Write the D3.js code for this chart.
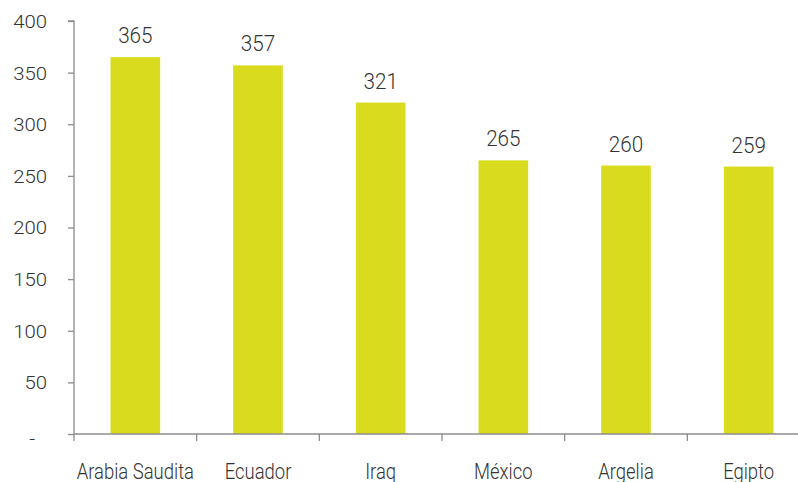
<!DOCTYPE html>
<html>
<head>
<meta charset="utf-8">
<script src="https://cdn.jsdelivr.net/npm/d3@7"></script>
<style>
  body { margin: 0; background: #fff; }
  svg { display: block; }
  text { font-family: Roboto, "Liberation Sans", sans-serif; font-weight: 300; fill: #333; }
</style>
</head>
<body>
<svg width="798" height="482"></svg>
<script>
// values
var countries = ['Arabia Saudita', 'Ecuador', 'Iraq', 'México', 'Argelia', 'Egipto']
var values = [365, 357, 321, 265, 260, 259]
var yTicks = [0, 50, 100, 150, 200, 250, 300, 350, 400]

var data = countries.map(function(c, i) {
  return { country: c, value: values[i] }
})

const svg = d3.select('svg')
const plotLeft = 74, plotTop = 21, plotBottom = 434
// the plot runs past the right edge of the picture
const plotRight = 810

const xScale = d3.scaleBand().range([plotLeft, plotRight]).domain(countries)
const yScale = d3.scaleLinear().range([plotBottom, plotTop]).domain([0, 400])
const barW = xScale.bandwidth() * 0.405

// the source font is a narrow one, so squeeze Roboto a bit
function place(sel, x, y, sx) {
  sel.attr('x', 0).attr('y', 0)
    .attr('transform', function(d) {
      return `translate(${x(d)},${y(d)}) scale(${sx},1)`
    })
}

// bars
svg.selectAll('rect.bar')
  .data(data)
  .enter()
  .append('rect')
  .attr('class', 'bar')
  .attr('x', d => xScale(d.country) + (xScale.bandwidth() - barW) / 2)
  .attr('y', d => yScale(d.value))
  .attr('width', barW)
  .attr('height', d => plotBottom - yScale(d.value))
  .attr('fill', '#d9db1e')

// value labels
svg.selectAll('text.val')
  .data(data)
  .enter()
  .append('text')
  .attr('class', 'val')
  .attr('text-anchor', 'middle')
  .style('font-size', '22px')
  .text(d => d.value)
  .call(place, d => xScale(d.country) + xScale.bandwidth() / 2, d => yScale(d.value) - 14, 0.94)

// y axis
const yAxis = svg.append('g')
  .attr('transform', `translate(${plotLeft},0)`)
  .call(d3.axisLeft(yScale).tickValues(yTicks).tickSize(6)
    .tickFormat(d => d === 0 ? '-' : d))
yAxis.selectAll('path, line').attr('stroke', '#8c8c8c').attr('stroke-width', 1.3)
yAxis.select('.domain').attr('d', `M-6,${plotTop}H0V${plotBottom}`)
yAxis.selectAll('text')
  .style('font-size', '18.5px')
  .attr('fill', '#333')
  .attr('dy', '0.35em')
  .call(place, d => d === 0 ? -39 : -27, d => d === 0 ? 4 : 0, 1.1)

// x axis, ticks at the band edges
const xAxis = svg.append('g')
  .attr('transform', `translate(0,${plotBottom})`)
xAxis.append('line')
  .attr('x1', plotLeft).attr('x2', plotRight).attr('y1', 0).attr('y2', 0)
  .attr('stroke', '#8c8c8c').attr('stroke-width', 1.3)
xAxis.selectAll('line.tk')
  .data(countries)
  .enter()
  .append('line')
  .attr('class', 'tk')
  .attr('x1', d => xScale(d)).attr('x2', d => xScale(d))
  .attr('y1', 0).attr('y2', 7)
  .attr('stroke', '#8c8c8c').attr('stroke-width', 1.3)
xAxis.selectAll('text.cat')
  .data(countries)
  .enter()
  .append('text')
  .attr('class', 'cat')
  .attr('text-anchor', 'middle')
  .style('font-size', '22px')
  .text(d => d)
  .call(place, d => xScale(d) + xScale.bandwidth() / 2, d => 45, 0.84)
</script>
</body>
</html>
